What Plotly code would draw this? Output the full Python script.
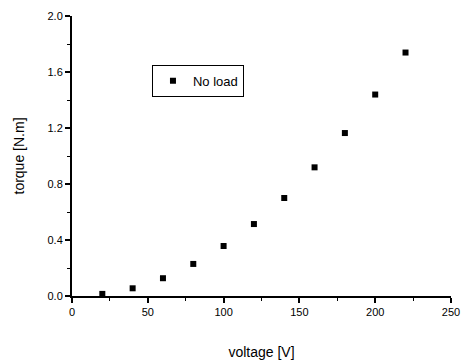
import plotly.graph_objects as go

voltage = [20, 40, 60, 80, 100, 120, 140, 160, 180, 200, 220]
torque = [0.015, 0.055, 0.127, 0.229, 0.357, 0.514, 0.70, 0.919, 1.164, 1.439, 1.739]
series_name = "No load"
x_title = "voltage [V]"
y_title = "torque [N.m]"

fig = go.Figure()
fig.add_trace(go.Scatter(
    x=voltage, y=torque, mode="markers", name=series_name,
    marker=dict(symbol="square", size=6, color="black"),
    showlegend=True,
))

font = "Liberation Sans, Arial, sans-serif"
fig.update_layout(
    width=461, height=360,
    margin=dict(l=72, r=10, t=16, b=64),
    paper_bgcolor="white", plot_bgcolor="white",
    font=dict(family=font, color="black", size=11),
    showlegend=True,
    legend=dict(
        x=0.211, y=0.826, xanchor="left", yanchor="top",
        bordercolor="black", borderwidth=1, bgcolor="white",
        font=dict(size=13, family=font),
        itemwidth=30,
    ),
    xaxis=dict(
        range=[0, 250], tickvals=[0, 50, 100, 150, 200, 250],
        showline=True, linecolor="black", linewidth=2,
        ticks="outside", ticklen=5, tickwidth=1.5, tickcolor="black",
        showgrid=False, zeroline=False, automargin=False,
        minor=dict(ticks="outside", ticklen=3, dtick=25, tickcolor="black", tickwidth=1.2, showgrid=False),
        title=dict(text=x_title, font=dict(size=14), standoff=32),
        tickfont=dict(size=11),
    ),
    yaxis=dict(
        range=[0, 2.0], tickvals=[0, 0.4, 0.8, 1.2, 1.6, 2.0], tickformat=".1f",
        showline=True, linecolor="black", linewidth=2,
        ticks="outside", ticklen=5, tickwidth=1.5, tickcolor="black",
        showgrid=False, zeroline=False, automargin=False,
        minor=dict(ticks="outside", ticklen=3, dtick=0.2, tickcolor="black", tickwidth=1.2, showgrid=False),
        title=dict(text=y_title, font=dict(size=14), standoff=20),
        tickfont=dict(size=11),
    ),
)

fig.write_html("out.html")
